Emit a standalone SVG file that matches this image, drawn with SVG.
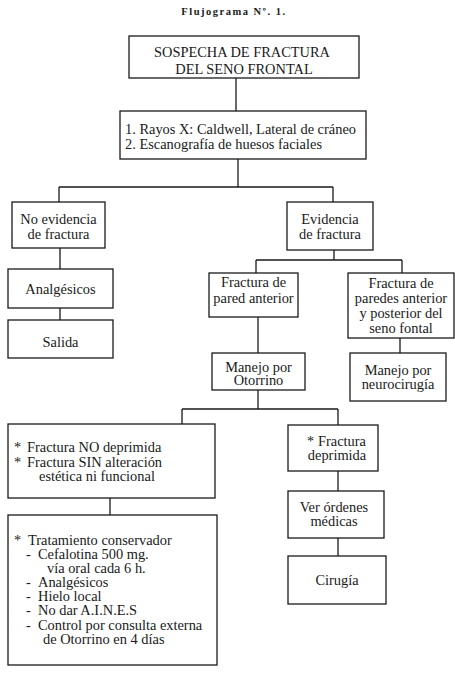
<svg xmlns="http://www.w3.org/2000/svg" width="455" height="677" viewBox="0 0 455 677">
<style>
.bg{fill:#fff}
.box{fill:#fff;stroke:#1a1a1a;stroke-width:1.3}
.conn{fill:none;stroke:#1a1a1a;stroke-width:1.3}
text{font-family:"Liberation Serif","Times New Roman",serif;font-size:14.4px;fill:#1a1a1a}
.c{text-anchor:middle}
.title{font-size:10.5px;font-weight:bold;letter-spacing:1.5px}
</style>
<rect class="bg" x="0" y="0" width="455" height="677"/>
<text class="title c" x="234" y="15">Flujograma Nº. 1.</text>
<g id="connectors">
<path class="conn" d="M236 78V111M238 159V187M59 187H333M59 187V202M333 187V202M60 248V269M60 308V320M334 250V260M256 260H402M256 260V273M402 260V273M400 338V353M258 317V353M258 390V409M182 409H338M182 409V424M338 409V425M110 498V515M338 471V491M338 538V556"/>
</g>
<g id="n1"><rect class="box" x="129" y="36" width="230" height="42"/>
<text class="c" x="242" y="57">SOSPECHA DE FRACTURA</text><text class="c" x="244" y="74">DEL SENO FRONTAL</text></g>
<g id="n2"><rect class="box" x="120" y="111" width="246" height="48"/>
<text x="125" y="134">1. Rayos X: Caldwell, Lateral de cráneo</text><text x="125" y="149">2. Escanografía de huesos faciales</text></g>
<g id="n3"><rect class="box" x="12" y="202" width="93" height="46"/>
<text class="c" x="58.5" y="224">No evidencia</text><text class="c" x="58.5" y="239">de fractura</text></g>
<g id="n4"><rect class="box" x="8" y="269" width="105" height="39"/>
<text class="c" x="60.5" y="294">Analgésicos</text></g>
<g id="n5"><rect class="box" x="8" y="320" width="105" height="38"/>
<text class="c" x="60.5" y="347">Salida</text></g>
<g id="n6"><rect class="box" x="287" y="202" width="86" height="48"/>
<text class="c" x="330" y="224">Evidencia</text><text class="c" x="330" y="239">de fractura</text></g>
<g id="n7"><rect class="box" x="209" y="273" width="89" height="44"/>
<text class="c" x="253.5" y="287">Fractura de</text><text class="c" x="253.5" y="303">pared anterior</text></g>
<g id="n8"><rect class="box" x="348" y="273" width="106" height="65"/>
<text class="c" x="401" y="288">Fractura de</text><text class="c" x="401" y="303">paredes anterior</text><text class="c" x="401" y="318">y posterior del</text><text class="c" x="401" y="333">seno fontal</text></g>
<g id="n9"><rect class="box" x="350" y="353" width="96" height="48"/>
<text class="c" x="398" y="375">Manejo por</text><text class="c" x="398" y="389">neurocirugía</text></g>
<g id="n10"><rect class="box" x="212" y="353" width="93" height="37"/>
<text class="c" x="258.5" y="372">Manejo por</text><text class="c" x="258.5" y="385">Otorrino</text></g>
<g id="n11"><rect class="box" x="8" y="424" width="207" height="74"/>
<text x="14" y="452">*</text><text x="27" y="452">Fractura NO deprimida</text>
<text x="14" y="467">*</text><text x="27" y="467">Fractura SIN alteración</text>
<text x="39" y="481">estética ni funcional</text></g>
<g id="n12"><rect class="box" x="8" y="515" width="209" height="150"/>
<text x="14" y="545">*</text><text x="28" y="545">Tratamiento conservador</text>
<text x="26" y="559">-</text><text x="38" y="559">Cefalotina 500 mg.</text>
<text x="47" y="573">vía oral cada 6 h.</text>
<text x="26" y="587">-</text><text x="38" y="587">Analgésicos</text>
<text x="26" y="601">-</text><text x="38" y="601">Hielo local</text>
<text x="26" y="615">-</text><text x="38" y="615">No dar A.I.N.E.S</text>
<text x="26" y="630">-</text><text x="38" y="630">Control por consulta externa</text>
<text x="43" y="644">de Otorrino en 4 días</text></g>
<g id="n13"><rect class="box" x="288" y="425" width="90" height="46"/>
<text x="307" y="446">*</text><text x="318" y="446">Fractura</text><text class="c" x="337" y="460">deprimida</text></g>
<g id="n14"><rect class="box" x="288" y="491" width="96" height="47"/>
<text class="c" x="334" y="512">Ver órdenes</text><text class="c" x="334" y="526">médicas</text></g>
<g id="n15"><rect class="box" x="288" y="556" width="98" height="48"/>
<text class="c" x="337" y="585">Cirugía</text></g>
</svg>
